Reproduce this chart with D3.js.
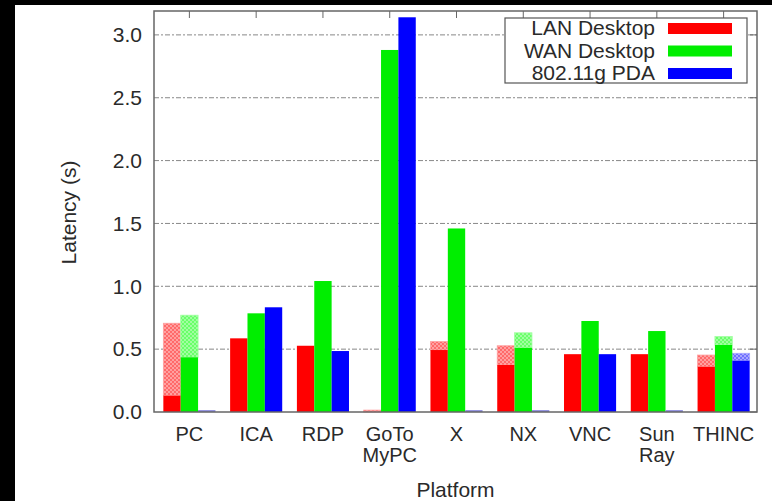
<!DOCTYPE html>
<html>
<head>
<meta charset="utf-8">
<script src="https://cdn.jsdelivr.net/npm/d3@7"></script>
<style>
    body { margin: 0; background: #fff; }
    text { font-family: "Liberation Sans", Arial, sans-serif; fill: #2a2a2a; }
</style>
</head>
<body>
<div id="chart"></div>
<script>
// platforms, each label can have two lines
let categories = [["PC"], ["ICA"], ["RDP"], ["GoTo", "MyPC"], ["X"], ["NX"], ["VNC"], ["Sun", "Ray"], ["THINC"]];
let seriesNames = ["LAN Desktop", "WAN Desktop", "802.11g PDA"];
// solid part of each bar
let lanSolid = [0.13, 0.586, 0.527, 0.0, 0.493, 0.374, 0.46, 0.46, 0.36];
let wanSolid = [0.435, 0.785, 1.042, 2.88, 1.46, 0.51, 0.724, 0.644, 0.533];
let pdaSolid = [0.015, 0.833, 0.485, 3.14, 0.015, 0.015, 0.46, 0.015, 0.408];
// top of the lighter (hatched) part of each bar
let lanTotal = [0.706, 0.586, 0.527, 0.015, 0.56, 0.527, 0.46, 0.46, 0.453];
let wanTotal = [0.77, 0.785, 1.042, 2.88, 1.46, 0.63, 0.724, 0.644, 0.6];
let pdaTotal = [0.015, 0.833, 0.485, 3.14, 0.015, 0.015, 0.46, 0.015, 0.467];
let yTicks = [0.0, 0.5, 1.0, 1.5, 2.0, 2.5, 3.0];

let width = 772;
let height = 501;
let margin = { top: 11, right: 15, bottom: 89, left: 154 };
let w = width - margin.left - margin.right;
let h = height - margin.top - margin.bottom;
let fontSize = "21px";

let colors = ["#ff0000", "#00ee00", "#0000ff"];
let light = ["#ffa0a0", "#a0ffa0", "#a8a8ff"];
let dots = ["#ff6a6a", "#6aff6a", "#7070ff"];

let svg = d3.select("#chart").append("svg")
    .attr("width", width)
    .attr("height", height);

// black bands at the left and top edge of the scan
svg.append("rect").attr("x", 0).attr("y", 0).attr("width", 15).attr("height", height).attr("fill", "#000");
svg.append("rect").attr("x", 0).attr("y", 0).attr("width", width).attr("height", 5).attr("fill", "#000");

let defs = svg.append("defs");
colors.forEach(function (c, i) {
    let p = defs.append("pattern")
        .attr("id", "hatch" + i)
        .attr("width", 4).attr("height", 4)
        .attr("patternUnits", "userSpaceOnUse");
    p.append("rect").attr("width", 4).attr("height", 4).attr("fill", light[i]);
    p.append("rect").attr("width", 2).attr("height", 2).attr("fill", dots[i]);
    p.append("rect").attr("x", 2).attr("y", 2).attr("width", 2).attr("height", 2).attr("fill", dots[i]);
});

let g = svg.append("g")
    .attr("transform", "translate(" + margin.left + "," + margin.top + ")");

let x = d3.scaleBand()
    .domain(d3.range(categories.length))
    .range([2, w]);
let groupWidth = x.bandwidth() * 0.78;
let xs = d3.scaleBand()
    .domain(d3.range(3))
    .range([(x.bandwidth() - groupWidth) / 2, (x.bandwidth() + groupWidth) / 2]);
let y = d3.scaleLinear()
    .domain([0, 3.19])
    .range([h, 0]);

// grid
g.selectAll(".grid")
    .data(yTicks.slice(1))
    .enter().append("line")
    .attr("x1", 0).attr("x2", w)
    .attr("y1", function (d) { return y(d); })
    .attr("y2", function (d) { return y(d); })
    .attr("stroke", "#888")
    .attr("stroke-width", 1)
    .attr("stroke-dasharray", "5,2,2,2");

// bars
let solids = [lanSolid, wanSolid, pdaSolid];
let totals = [lanTotal, wanTotal, pdaTotal];
let bars = [];
for (let s = 0; s < 3; s++) {
    for (let i = 0; i < categories.length; i++) {
        bars.push({ s: s, i: i, solid: solids[s][i], total: totals[s][i] });
    }
}

g.selectAll(".light")
    .data(bars.filter(function (d) { return d.total > d.solid; }))
    .enter().append("rect")
    .attr("x", function (d) { return x(d.i) + xs(d.s); })
    .attr("width", xs.bandwidth())
    .attr("y", function (d) { return y(d.total); })
    .attr("height", function (d) { return y(d.solid) - y(d.total); })
    .attr("fill", function (d) { return "url(#hatch" + d.s + ")"; })
    .attr("stroke", function (d) { return light[d.s]; })
    .attr("stroke-width", 0.8);

g.selectAll(".solid")
    .data(bars.filter(function (d) { return d.solid > 0; }))
    .enter().append("rect")
    .attr("x", function (d) { return x(d.i) + xs(d.s); })
    .attr("width", xs.bandwidth())
    .attr("y", function (d) { return y(d.solid); })
    .attr("height", function (d) { return h - y(d.solid); })
    .attr("fill", function (d) { return d.solid < 0.05 ? "#8888dd" : colors[d.s]; });

// frame
g.append("rect")
    .attr("width", w).attr("height", h)
    .attr("fill", "none")
    .attr("stroke", "#666")
    .attr("stroke-width", 1.5);

// y axis
let yAxis = g.append("g")
    .call(d3.axisLeft(y).tickValues(yTicks).tickFormat(d3.format(".1f")).tickSize(0).tickPadding(12));
yAxis.select(".domain").remove();
yAxis.selectAll("text").style("font-size", fontSize).attr("fill", "#2a2a2a");

// mirrored ticks on the right
g.selectAll(".rtick")
    .data(yTicks)
    .enter().append("line")
    .attr("x1", w - 7).attr("x2", w)
    .attr("y1", function (d) { return y(d); })
    .attr("y2", function (d) { return y(d); })
    .attr("stroke", "#666");

// category ticks at the top
g.selectAll(".ttick")
    .data(d3.range(categories.length))
    .enter().append("line")
    .attr("x1", function (d) { return x(d) + x.bandwidth() / 2; })
    .attr("x2", function (d) { return x(d) + x.bandwidth() / 2; })
    .attr("y1", 0).attr("y2", 7)
    .attr("stroke", "#666");

// x labels
let xl = g.selectAll(".xlab")
    .data(categories)
    .enter().append("g")
    .attr("transform", function (d, i) { return "translate(" + (x(i) + x.bandwidth() / 2) + "," + (h + 29) + ")"; });
xl.selectAll("text")
    .data(function (d) { return d; })
    .enter().append("text")
    .attr("text-anchor", "middle")
    .style("font-size", "20px")
    .attr("y", function (d, j) { return j * 21; })
    .text(function (d) { return d; });

// axis titles
g.append("text")
    .attr("x", w / 2)
    .attr("y", h + 85)
    .attr("text-anchor", "middle")
    .style("font-size", fontSize)
    .text("Platform");

g.append("text")
    .attr("transform", "translate(" + (-78) + "," + (h / 2 + 1) + ") rotate(-90)")
    .attr("text-anchor", "middle")
    .style("font-size", fontSize)
    .text("Latency (s)");

// legend
let legend = svg.append("g").attr("transform", "translate(505,18)");
legend.append("rect")
    .attr("width", 242).attr("height", 65)
    .attr("fill", "#fff")
    .attr("stroke", "#555")
    .attr("stroke-width", 1.2);
seriesNames.forEach(function (name, i) {
    let cy = 10 + i * 22.5;
    legend.append("text")
        .attr("x", 150)
        .attr("y", cy + 7)
        .attr("text-anchor", "end")
        .style("font-size", fontSize)
        .text(name);
    legend.append("rect")
        .attr("x", 163).attr("y", cy - 5)
        .attr("width", 64).attr("height", 11)
        .attr("fill", colors[i]);
});
</script>
</body>
</html>
